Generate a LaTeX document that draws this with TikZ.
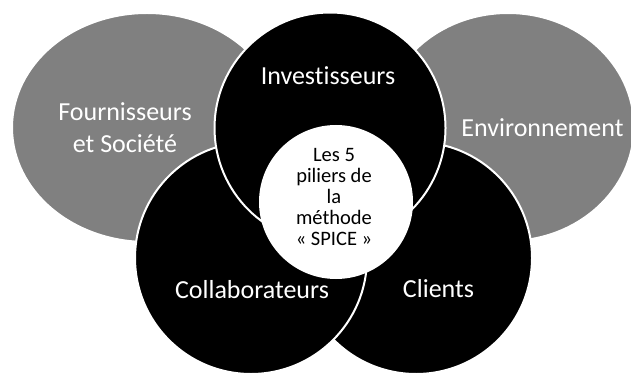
\documentclass[tikz,border=0pt]{standalone}
\usepackage{fontspec}
\setmainfont[Ligatures=NoCommon]{Carlito}
\usetikzlibrary{shapes.geometric}
\definecolor{gris}{HTML}{808080}
\tikzset{
  partie/.style={draw=white, line width=2pt, inner sep=0pt},
  cercle/.style={partie, circle, fill=black, minimum size=#1},
  cercle/.default=232pt,
  ovale/.style={partie, ellipse, fill=gris},
  etiquette/.style={text=white, align=center, font=\fontsize{26}{32}\selectfont},
  coeur/.style={text=black, align=center, font=\fontsize{20.5}{20.8}\selectfont},
}
\begin{document}
\begin{tikzpicture}[x=1pt,y=-1pt]
\useasboundingbox (0,0) rectangle (631,374);
\node[ovale, minimum width=270pt, minimum height=229pt] (fourn) at (147,127.5) {};
\node[ovale, minimum width=252pt, minimum height=228pt] (envir) at (508,127) {};
\node[cercle] (clients) at (416,258) {};
\node[cercle] (collab) at (251,258) {};
\node[cercle=231pt] (invest) at (330,128) {};
\node[partie, circle, fill=white, minimum size=152pt] (spice) at (336,202) {};
\node[etiquette] (tfourn) at (125,127.7) {Fournisseurs\\et Société};
\node[etiquette, anchor=base] (tenvir) at (542.5,137) {Environnement};
\node[etiquette, anchor=base] (tinvest) at (328,85) {Investisseurs};
\node[etiquette, anchor=base] (tcollab) at (252,298) {Collaborateurs};
\node[etiquette, anchor=base] (tclients) at (438.5,297) {Clients};
\node[coeur] (tspice) at (334,197) {Les 5\\piliers de\\la\\méthode\\«~SPICE~»};
\end{tikzpicture}
\end{document}
